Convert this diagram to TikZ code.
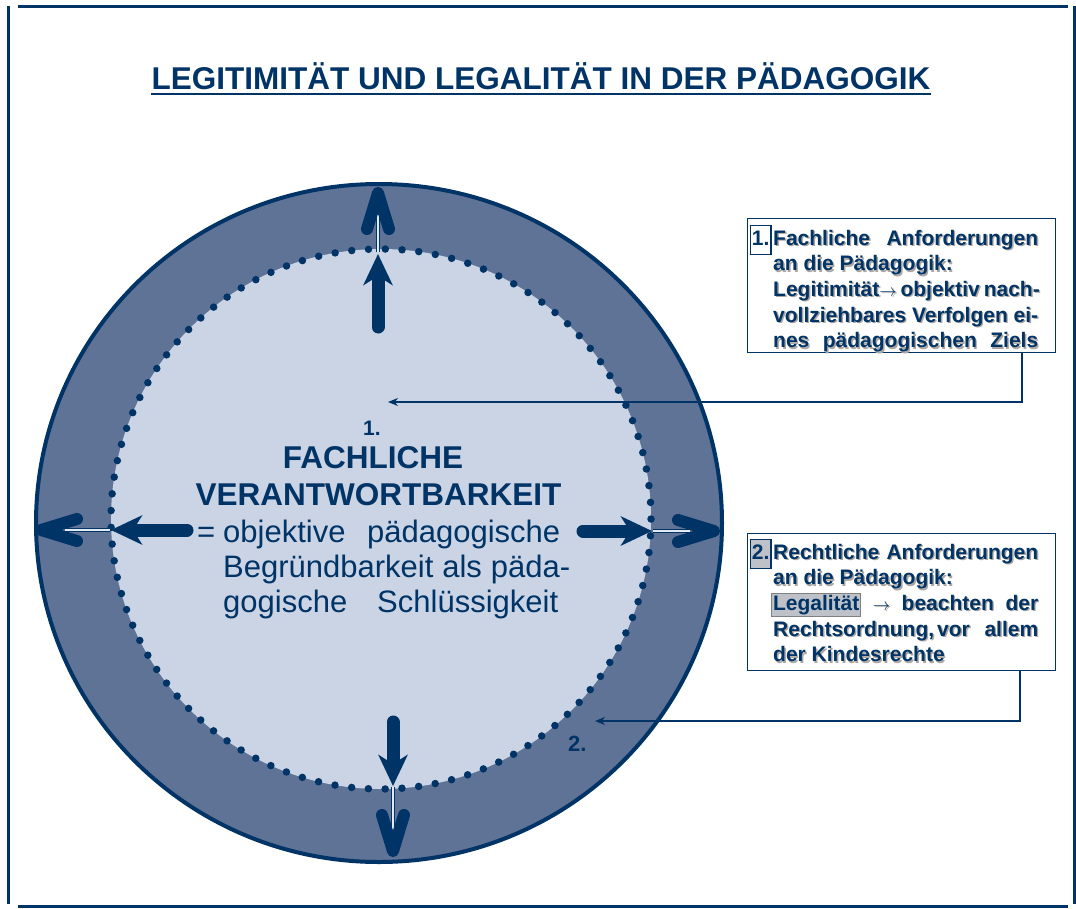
\documentclass[tikz,border=0pt]{standalone}
\usepackage{fontspec}
\setmainfont{Liberation Sans}
\usetikzlibrary{arrows.meta}

\definecolor{navy}{RGB}{0,51,102}
\definecolor{ringfill}{RGB}{94,115,150}
\definecolor{corefill}{RGB}{202,212,228}
\definecolor{markgray}{RGB}{190,194,200}
\definecolor{shadowgray}{RGB}{172,166,162}

% boxed numbers and highlighted words in the side boxes;
% in shadow mode they keep their width but draw no frame
\newif\ifshade
\newcommand\numbox[1]{\ifshade\hbox{\hspace{2.3pt}\strut#1\hspace{2.3pt}}\else{\fboxsep=1pt\fboxrule=1.3pt\fcolorbox{navy}{white}{\strut#1}}\fi}
\newcommand\numboxgray[1]{\ifshade\hbox{\hspace{2.3pt}\strut#1\hspace{2.3pt}}\else{\fboxsep=1pt\fboxrule=1.3pt\fcolorbox{navy}{markgray}{\strut#1}}\fi}
\newcommand\markword[1]{\ifshade\hbox{\hspace{1.8pt}#1\hspace{1.8pt}}\else{\fboxsep=1pt\fboxrule=0.8pt\fcolorbox{gray}{markgray}{#1}}\fi}
\newcommand\arr{{\fontsize{16pt}{16pt}\selectfont$\rightarrow$}}
\newcommand\boxlines[1]{\parbox[t]{300pt}{\fontsize{21pt}{25.7pt}\bfseries\selectfont\leavevmode #1}}

\newcommand\boxonetext{%
  \llap{\numbox{1.}\hspace{1.5pt}}\makebox[265pt][s]{Fachliche Anforderungen}\\
  an die Pädagogik:\\
  \makebox[265pt][s]{Legitimität\arr{} objektiv nach-}\\
  \makebox[265pt][s]{vollziehbares Verfolgen ei-}\\
  \makebox[265pt][s]{nes pädagogischen Ziels}}
\newcommand\boxtwotext{%
  \llap{\numboxgray{2.}\hspace{1.5pt}}\makebox[265pt][s]{Rechtliche Anforderungen}\\
  an die Pädagogik:\\
  \makebox[265pt][s]{\hspace*{-2pt}\markword{Legalität} \arr{} beachten der}\\
  \makebox[265pt][s]{Rechtsordnung,\hspace{3pt}vor allem}\\
  der Kindesrechte}

\begin{document}
\begin{tikzpicture}[x=1pt,y=-1pt,
  frame/.style={navy, line width=3pt},
  infobox/.style={draw=navy, line width=1.3pt, fill=white, inner sep=0pt, anchor=north west},
  boxtext/.style={navy, inner sep=0pt, anchor=base west},
  boxshadow/.style={shadowgray, inner sep=0pt, anchor=base west},
  conn/.style={navy, line width=1.3pt, -{Stealth[length=10pt,width=8pt]}},
  fat/.style={navy, line width=13pt, line cap=round, -{Stealth[length=31pt,width=29pt,inset=9pt]}},
  stem/.style={navy, line width=1.2pt, double=corefill!50!white, double distance=2.4pt},
  centerbold/.style={navy, inner sep=0pt, anchor=base, font=\bfseries\fontsize{31.5pt}{34pt}\selectfont},
  centerplain/.style={navy, inner sep=0pt, anchor=base west, font=\fontsize{31pt}{34pt}\selectfont},
  pics/chevron/.style={code={
    \fill[navy] (-4,0) -- (-32,-9) -- (-23,0) -- (-32,9) -- cycle;
    \draw[navy, line width=12pt, line cap=round, line join=round] (-42,-11) -- (-6,0) -- (-42,11);
  }}
]
\useasboundingbox (0,0) rectangle (1076,908);

% page frame
\draw[frame] (18,6) -- (1068,6);
\draw[frame] (8,6) -- (8,904);
\draw[frame] (18,906) -- (1068,906);
\draw[frame] (1074.5,6) -- (1074.5,904);

% title
\node[navy, inner sep=0pt, anchor=base, font=\bfseries\fontsize{31.5pt}{36pt}\selectfont] (title) at (541,89)
  {LEGITIMITÄT UND LEGALITÄT IN DER PÄDAGOGIK};
\draw[navy, line width=2.5pt] ([yshift=-5pt]title.base west) -- ([yshift=-5pt]title.base east);

% outer ring and inner core
\draw[navy, line width=4pt, fill=ringfill] (379,523) ellipse[x radius=343, y radius=339];
\fill[corefill] (381,519) circle[radius=270];
\draw[navy, line width=7.5pt, line cap=round, dash pattern=on 0pt off 16.8pt] (381,519) circle[radius=270];

% double stems between inner and outer arrows
\draw[stem] (378,252) -- (378,215);
\draw[stem] (110,530) -- (65,530);
\draw[stem] (653,531) -- (690,531);
\draw[stem] (393,787) -- (393,830);

% outer arrow heads
\pic[rotate=90] at (378,187) {chevron};
\pic[rotate=180] at (35,530) {chevron};
\pic at (720,531) {chevron};
\pic[rotate=-90] at (393,857) {chevron};

% inner arrows
\draw[fat] (378,327) -- (378,254);
\draw[fat] (187,530) -- (111,530);
\draw[fat] (583,531) -- (652,531);
\draw[fat] (393,722) -- (393,786);

% central text
\node[navy, inner sep=0pt, anchor=base, font=\bfseries\fontsize{21pt}{24pt}\selectfont] (cnum) at (372,435) {1.};
\node[centerbold] (cfach) at (373,468) {FACHLICHE};
\node[centerbold] (cver) at (378.5,505) {VERANTWORTBARKEIT};
\node[centerplain] (cl1) at (197,542)
  {\makebox[26pt][l]{=}\makebox[337pt][s]{objektive pädagogische}};
\node[centerplain] (cl2) at (223,577)
  {\makebox[347pt][s]{Begründbarkeit als päda-}};
\node[centerplain] (cl3) at (223,612)
  {\makebox[335pt][s]{gogische Schlüssigkeit}};
\node[navy, inner sep=0pt, anchor=base west, font=\bfseries\fontsize{22pt}{24pt}\selectfont] (lbl2) at (568,751) {2.};

% side boxes with shadowed text
\node[infobox, minimum width=308pt, minimum height=134pt] (box1) at (747,218) {};
\node[boxshadow] (txt1s) at (774.4,246.4) {\shadetrue\boxlines{\boxonetext}};
\node[boxtext] (txt1) at (773,245) {\boxlines{\boxonetext}};

\node[infobox, minimum width=308pt, minimum height=137pt] (box2) at (747,533) {};
\node[boxshadow] (txt2s) at (774.4,560.4) {\shadetrue\boxlines{\boxtwotext}};
\node[boxtext] (txt2) at (773,559) {\boxlines{\boxtwotext}};

% connectors from the boxes into the circle
\coordinate (k1) at (1022,402);
\coordinate (p1) at (388,402);
\draw[conn] (box1.south -| k1) -- (k1) -- (p1);
\coordinate (k2) at (1020,721);
\coordinate (p2) at (595,721);
\draw[conn] (box2.south -| k2) -- (k2) -- (p2);
\end{tikzpicture}
\end{document}
